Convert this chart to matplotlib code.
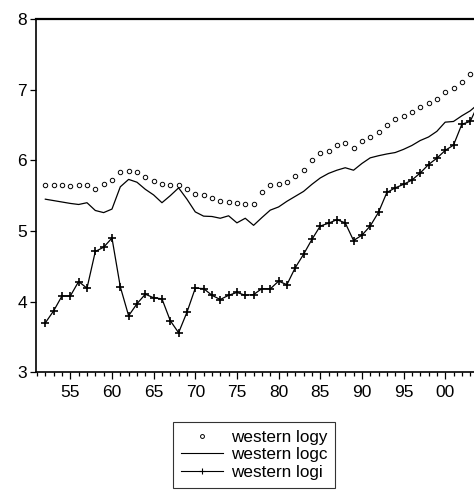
import numpy as np
import matplotlib as mpl
mpl.use('Agg')
import matplotlib.pyplot as plt
from matplotlib.ticker import FixedLocator, MultipleLocator, FuncFormatter

plt.rcParams['font.family'] = ['Liberation Sans', 'DejaVu Sans']

# yearly data, 1952 onwards
years = np.arange(1952, 2005)

logy = [5.645, 5.645, 5.645, 5.64, 5.65, 5.645, 5.59, 5.67, 5.72, 5.84,
        5.855, 5.83, 5.77, 5.71, 5.67, 5.65, 5.65, 5.59, 5.53, 5.51,
        5.47, 5.43, 5.41, 5.40, 5.375, 5.38, 5.545, 5.645, 5.66, 5.69,
        5.78, 5.87, 6.00, 6.11, 6.135, 6.21, 6.24, 6.17, 6.27, 6.33,
        6.40, 6.50, 6.59, 6.63, 6.69, 6.75, 6.81, 6.87, 6.97, 7.03,
        7.11, 7.22]

logc = [5.45, 5.43, 5.41, 5.39, 5.375, 5.40, 5.29, 5.26, 5.31, 5.625,
        5.73, 5.69, 5.59, 5.51, 5.40, 5.50, 5.61, 5.45, 5.27, 5.21,
        5.205, 5.18, 5.215, 5.115, 5.18, 5.08, 5.19, 5.295, 5.34, 5.42,
        5.49, 5.56, 5.66, 5.75, 5.815, 5.86, 5.895, 5.86, 5.955, 6.035,
        6.065, 6.09, 6.11, 6.155, 6.21, 6.28, 6.33, 6.41, 6.54, 6.55,
        6.63, 6.70, 6.80]

logi = [3.70, 3.87, 4.08, 4.08, 4.285, 4.19, 4.71, 4.77, 4.90, 4.21,
        3.80, 3.97, 4.105, 4.055, 4.04, 3.73, 3.56, 3.85, 4.19, 4.185,
        4.09, 4.03, 4.09, 4.13, 4.09, 4.10, 4.185, 4.18, 4.29, 4.24,
        4.48, 4.67, 4.88, 5.07, 5.11, 5.16, 5.115, 4.865, 4.94, 5.07,
        5.265, 5.545, 5.61, 5.66, 5.72, 5.82, 5.94, 6.03, 6.14, 6.215,
        6.51, 6.55, 6.80]

labels = ['western logy', 'western logc', 'western logi']
major_years = [1955, 1960, 1965, 1970, 1975, 1980, 1985, 1990, 1995, 2000]


def main():
    fig = plt.figure(figsize=(4.74, 5.0), dpi=100)
    ax = fig.add_axes([36 / 474, 1 - 372.3 / 500, 1 - 36 / 474, (372.3 - 19) / 500])

    ax.plot(years[:len(logy)], logy, linestyle='none', marker='o', markersize=3.2,
            markerfacecolor='white', markeredgecolor='black', markeredgewidth=0.7,
            color='black', label=labels[0])
    ax.plot(years, logc, color='black', linewidth=0.9, label=labels[1])
    ax.plot(years, logi, color='black', linewidth=0.9, marker='+', markersize=6.2,
            markeredgewidth=1.2, label=labels[2])

    ax.set_xlim(1950.88, 2003.46)
    ax.set_ylim(3, 8)

    ax.xaxis.set_major_locator(FixedLocator(major_years))
    ax.xaxis.set_minor_locator(MultipleLocator(1))
    ax.xaxis.set_major_formatter(FuncFormatter(lambda v, p: '%02d' % (int(round(v)) % 100)))
    ax.set_yticks([3, 4, 5, 6, 7, 8])

    ax.tick_params(axis='x', which='major', direction='out', length=5, width=0.9,
                   labelsize=12.5, pad=4)
    ax.tick_params(axis='x', which='minor', direction='out', length=3, width=0.9)
    ax.tick_params(axis='y', which='major', direction='out', length=4, width=0.9,
                   labelsize=12.5, pad=2.5)

    ax.spines['top'].set_linewidth(1.6)
    ax.spines['left'].set_linewidth(1.2)
    ax.spines['bottom'].set_linewidth(1.2)
    ax.spines['right'].set_visible(False)

    leg = fig.legend(loc='upper left', bbox_to_anchor=(173 / 474, 1 - 422 / 500),
                     borderaxespad=0, fontsize=12.3, frameon=True, fancybox=False,
                     edgecolor='black', handlelength=2.5, handletextpad=0.45,
                     borderpad=0.45, labelspacing=0.15)
    leg.get_frame().set_linewidth(0.8)
    # small markers in the legend keys
    leg.legend_handles[0].set_markersize(2.8)
    leg.legend_handles[2].set_markersize(4.5)
    leg.legend_handles[2].set_markeredgewidth(0.8)
    leg.legend_handles[2].set_linewidth(0.8)
    leg.legend_handles[1].set_linewidth(0.8)

    fig.savefig('out.png', dpi=100)


if __name__ == '__main__':
    main()
